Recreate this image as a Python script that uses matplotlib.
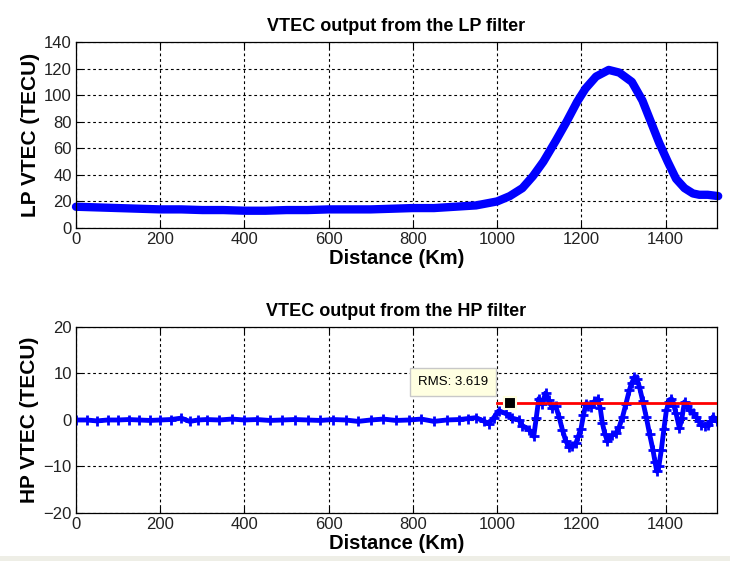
import matplotlib
matplotlib.use("Agg")
import matplotlib.pyplot as plt

plt.rcParams['font.family'] = ['Liberation Sans', 'DejaVu Sans']

# LP filter output
lp_x = [0, 50, 100, 150, 200, 250, 300, 350, 400, 450, 500, 550, 600, 650, 700, 750,
        800, 850, 900, 950, 1000, 1030, 1060, 1085, 1110, 1140, 1165, 1190, 1210, 1235,
        1265, 1290, 1320, 1345, 1365, 1385, 1405, 1425, 1445, 1465, 1480, 1500, 1525]
lp_y = [16, 15.5, 15, 14.5, 14, 14, 13.5, 13.5, 13, 13, 13.5, 13.5, 14, 14, 14, 14.5,
        15, 15, 16, 17, 20, 24, 30, 39, 50, 66, 80, 95, 105, 114,
        119, 117, 110, 96, 80, 64, 50, 37, 30, 26, 25, 25, 24]

# HP filter output
hp_x = [0, 25, 50, 75, 100, 125, 150, 175, 200, 225, 250, 270, 290, 310, 340, 370, 400,
        430, 460, 490, 520, 550, 580, 610, 640, 670, 700, 730, 760, 790, 820, 850, 880,
        910, 930, 950, 970, 980, 992, 1004, 1020, 1036, 1052, 1060, 1076, 1087, 1093, 1099,
        1107, 1115, 1123, 1131, 1139, 1147, 1155, 1163, 1171, 1179, 1187, 1193, 1199, 1205,
        1211, 1217, 1223, 1231, 1239, 1245, 1250, 1256, 1262, 1272, 1282, 1290, 1298, 1306,
        1314, 1320, 1326, 1332, 1338, 1346, 1354, 1362, 1370, 1375, 1379, 1384, 1390, 1396,
        1402, 1408, 1414, 1420, 1425, 1433, 1439, 1445, 1451, 1457, 1465, 1473, 1479, 1485,
        1493, 1501, 1507, 1513, 1522]
hp_y = [0, 0, -0.2, 0, 0, 0.1, 0, -0.1, 0, 0.1, 0.4, -0.3, 0, 0.1, 0, 0.2, 0,
        0.1, -0.1, 0, 0.1, 0, -0.1, 0.1, 0, -0.3, 0, 0.2, -0.1, 0, 0.2, -0.3, 0,
        0.1, 0.3, 0.5, -0.3, -0.8, 0.5, 2.0, 1.4, 0.4, 0, -1.2, -2.1, -3.5, 0.5, 4.6,
        3.5, 5.8, 4.2, 2.5, 3.0, 0.7, -2.1, -4.5, -5.8, -5.5, -5.0, -3.5, -2.0, 1.0,
        3.5, 3.0, 2.8, 4.0, 4.6, 2.5, -0.7, -3.0, -4.6, -3.3, -2.8, -1.5, 0.7, 3.5,
        6.4, 8.0, 9.2, 8.8, 7.1, 4.0, 0.7, -3.0, -6.4, -9.0, -11.0, -10.0, -6.4, -2.0,
        2.1, 3.8, 4.6, 3.0, 1.4, -1.8, 0.5, 3.9, 3.0, 2.1, 1.5, 0.7, -0.3, -1.1,
        -1.2, -1.1, -0.3, 0.7, -0.2]

rms_value = 3.619
rms_x = [1000, 1520]
rms_marker_x = 1030

fig = plt.figure(figsize=(7.3, 5.61), dpi=100)
fig.patch.set_facecolor('white')
fig.patches.append(plt.Rectangle((0, 0), 1, 5/561, transform=fig.transFigure,
                                 facecolor='#EEEEE6', edgecolor='none', zorder=0))

def style(ax, ylim, yticks):
    ax.set_xlim(0, 1522)
    ax.set_ylim(*ylim)
    ax.set_xticks([0, 200, 400, 600, 800, 1000, 1200, 1400])
    ax.set_yticks(yticks)
    ax.grid(True, color='black', linestyle=(0, (2.5, 2.5)), linewidth=0.8)
    ax.tick_params(direction='in', length=4, labelsize=12, pad=3, top=True, right=True,
                   labelcolor='#222222')
    for s in ax.spines.values():
        s.set_linewidth(0.9)
    ax.set_xlabel('Distance (Km)', fontsize=14.5, fontweight='bold', labelpad=1)

ax1 = fig.add_axes([0.1041, 0.5936, 0.878, 0.3315])
ax1.plot(lp_x, lp_y, color='#0000FF', linewidth=6, solid_capstyle='round', clip_on=False)
style(ax1, (0, 140), [0, 20, 40, 60, 80, 100, 120, 140])
ax1.set_ylabel('LP VTEC (TECU)', fontsize=15, fontweight='bold', labelpad=3)
ax1.set_title('VTEC output from the LP filter', fontsize=13, fontweight='bold', pad=8)

ax2 = fig.add_axes([0.1041, 0.0856, 0.878, 0.3315])
ax2.plot(hp_x, hp_y, color='#0000FF', linewidth=3.5, marker='+', markersize=7,
         markeredgewidth=2)
ax2.plot(rms_x, [rms_value, rms_value], color='#FF0000', linewidth=2, zorder=3)
ax2.plot([rms_marker_x], [rms_value], marker='s', markersize=8, color='black',
         markeredgecolor='#FFFFE1', markeredgewidth=1.5, zorder=4)
style(ax2, (-20, 20), [-20, -10, 0, 10, 20])
ax2.set_ylabel('HP VTEC (TECU)', fontsize=15, fontweight='bold', labelpad=3)
ax2.set_title('VTEC output from the HP filter', fontsize=13, fontweight='bold', pad=8)
ax2.text(812, 8.1, 'RMS: %.3f' % rms_value, fontsize=9.5, va='center', ha='left',
         zorder=5,
         bbox=dict(boxstyle='square,pad=0.6', facecolor='#FFFFE1', edgecolor='#C8C8C8',
                   linewidth=1))

fig.savefig('out.png', dpi=100)
